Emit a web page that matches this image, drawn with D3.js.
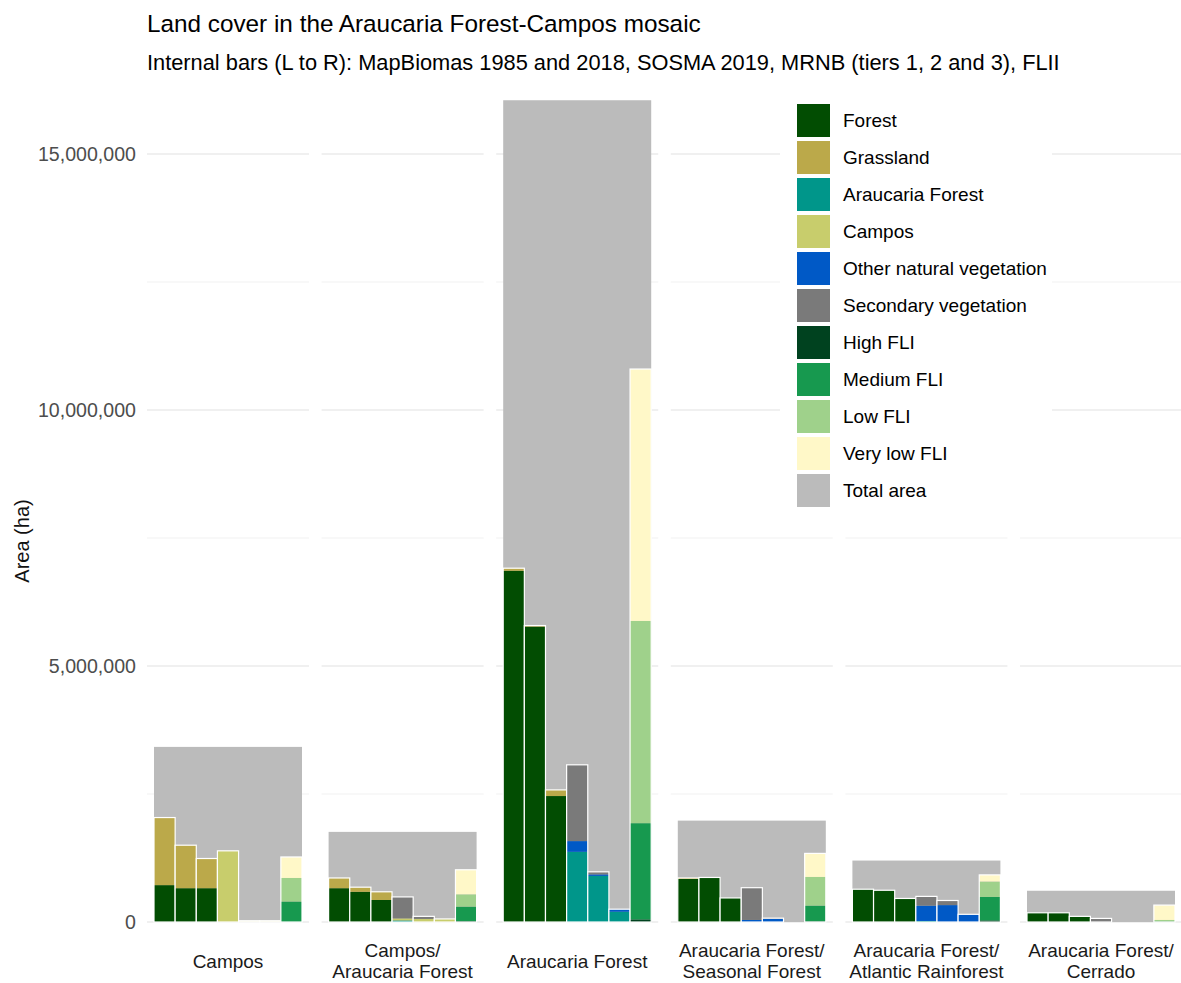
<!DOCTYPE html>
<html><head><meta charset="utf-8">
<script src="https://cdn.jsdelivr.net/npm/d3@7"></script>
<style>
body{margin:0;background:#fff;}
svg{display:block;font-family:"Liberation Sans",Arial,sans-serif;}
</style>
</head><body>
<svg id="chart" width="1181" height="983"></svg>
<script>
// ---------- DATA ----------
const groups = ["Campos","Campos/Araucaria Forest","Araucaria Forest","Araucaria Forest/Seasonal Forest","Araucaria Forest/Atlantic Rainforest","Araucaria Forest/Cerrado"];
const groupLabels = [["Campos"],["Campos/","Araucaria Forest"],["Araucaria Forest"],["Araucaria Forest/","Seasonal Forest"],["Araucaria Forest/","Atlantic Rainforest"],["Araucaria Forest/","Cerrado"]];
const sources = ["MapBiomas 1985","MapBiomas 2018","SOSMA 2019","MRNB tier 1","MRNB tier 2","MRNB tier 3","FLII"];
const classes = ["Forest","Grassland","Araucaria Forest","Campos","Other natural vegetation","Secondary vegetation","High FLI","Medium FLI","Low FLI","Very low FLI"];
const classColors = ["#024d02","#bba94a","#00968a","#c8cd6c","#0059c6","#7a7a7a","#00421f","#17994f","#9fd18b","#fff8c8"];
const totalLabel = "Total area";
const totalColor = "#bbbbbb";

// total area per group (ha)
const totalArea = [3420000, 1760000, 16050000, 1980000, 1200000, 610000];

// each class: per group, values (ha) for the 7 sources
const forest = [
  [720000, 660000, 660000, 0, 0, 0, 0],
  [660000, 590000, 430000, 0, 0, 0, 0],
  [6860000, 5770000, 2460000, 0, 0, 0, 0],
  [840000, 870000, 470000, 0, 0, 0, 0],
  [640000, 620000, 460000, 0, 0, 0, 0],
  [180000, 180000, 110000, 0, 0, 0, 0]];
const grassland = [
  [1320000, 840000, 580000, 0, 0, 0, 0],
  [200000, 90000, 160000, 0, 0, 0, 0],
  [50000, 20000, 120000, 0, 0, 0, 0],
  [20000, 0, 0, 0, 0, 0, 0],
  [0, 0, 0, 0, 0, 0, 0],
  [0, 0, 0, 0, 0, 0, 0]];
const araucariaForest = [
  [0, 0, 0, 0, 0, 0, 0],
  [0, 0, 0, 30000, 0, 0, 0],
  [0, 0, 0, 1370000, 900000, 200000, 0],
  [0, 0, 0, 0, 0, 0, 0],
  [0, 0, 0, 20000, 0, 0, 0],
  [0, 0, 0, 0, 0, 0, 0]];
const campos = [
  [0, 0, 0, 1390000, 25000, 25000, 0],
  [0, 0, 0, 40000, 60000, 60000, 0],
  [0, 0, 0, 0, 0, 0, 0],
  [0, 0, 0, 0, 0, 0, 0],
  [0, 0, 0, 0, 0, 0, 0],
  [0, 0, 0, 0, 0, 0, 0]];
const otherNatural = [
  [0, 0, 0, 0, 0, 0, 0],
  [0, 0, 0, 0, 0, 0, 0],
  [0, 0, 0, 210000, 30000, 50000, 0],
  [0, 0, 0, 40000, 60000, 0, 0],
  [0, 0, 0, 300000, 330000, 150000, 0],
  [0, 0, 0, 0, 0, 0, 0]];
const secondary = [
  [0, 0, 0, 0, 0, 0, 0],
  [0, 0, 0, 420000, 50000, 0, 0],
  [0, 0, 0, 1490000, 50000, 0, 0],
  [0, 0, 0, 630000, 15000, 0, 0],
  [0, 0, 0, 180000, 90000, 0, 0],
  [0, 0, 0, 70000, 0, 0, 0]];
const highFLI = [
  [0, 0, 0, 0, 0, 0, 0],
  [0, 0, 0, 0, 0, 0, 15000],
  [0, 0, 0, 0, 0, 0, 50000],
  [0, 0, 0, 0, 0, 0, 10000],
  [0, 0, 0, 0, 0, 0, 30000],
  [0, 0, 0, 0, 0, 0, 0]];
const mediumFLI = [
  [0, 0, 0, 0, 0, 0, 400000],
  [0, 0, 0, 0, 0, 0, 285000],
  [0, 0, 0, 0, 0, 0, 1880000],
  [0, 0, 0, 0, 0, 0, 310000],
  [0, 0, 0, 0, 0, 0, 460000],
  [0, 0, 0, 0, 0, 0, 10000]];
const lowFLI = [
  [0, 0, 0, 0, 0, 0, 460000],
  [0, 0, 0, 0, 0, 0, 240000],
  [0, 0, 0, 0, 0, 0, 3950000],
  [0, 0, 0, 0, 0, 0, 560000],
  [0, 0, 0, 0, 0, 0, 300000],
  [0, 0, 0, 0, 0, 0, 30000]];
const veryLowFLI = [
  [0, 0, 0, 0, 0, 0, 410000],
  [0, 0, 0, 0, 0, 0, 480000],
  [0, 0, 0, 0, 0, 0, 4920000],
  [0, 0, 0, 0, 0, 0, 460000],
  [0, 0, 0, 0, 0, 0, 130000],
  [0, 0, 0, 0, 0, 0, 290000]];

const yMajorTicks = [0, 5000000, 10000000, 15000000];
const yMinorTicks = [2500000, 7500000, 12500000];
const titleText = "Land cover in the Araucaria Forest-Campos mosaic";
const subtitleText = "Internal bars (L to R): MapBiomas 1985 and 2018, SOSMA 2019, MRNB (tiers 1, 2 and 3), FLII";
const yTitle = "Area (ha)";

const classValues = [forest, grassland, araucariaForest, campos, otherNatural, secondary, highFLI, mediumFLI, lowFLI, veryLowFLI];

// ---------- DRAW ----------
const svg = d3.select("#chart");
const panelStep = 174.6, panelGap = 12.6, panelLeft = 147;
const x = d3.scaleBand().domain(groups)
  .range([panelLeft, panelLeft + panelStep * (groups.length - panelGap / panelStep)])
  .paddingInner(panelGap / panelStep).paddingOuter(0);
const pad = 7;
const xi = d3.scaleBand().domain(sources).range([pad, x.bandwidth() - pad]).padding(0);
const y = d3.scaleLinear().domain([0, 15000000]).range([922, 154]);

const fmt = d3.format(",");

// gridlines per panel
groups.forEach(g => {
  const x0 = x(g), x1 = x(g) + x.bandwidth();
  svg.append("g").selectAll("line").data(yMinorTicks).join("line")
    .attr("x1", x0).attr("x2", x1).attr("y1", d => y(d)).attr("y2", d => y(d))
    .attr("stroke", "#eeeeee").attr("stroke-width", 0.8);
  svg.append("g").selectAll("line").data(yMajorTicks).join("line")
    .attr("x1", x0).attr("x2", x1).attr("y1", d => y(d)).attr("y2", d => y(d))
    .attr("stroke", "#e2e2e2").attr("stroke-width", 1.1);
});

// y axis tick labels
const yAxis = d3.axisLeft(y).tickValues(yMajorTicks).tickFormat(fmt).tickSize(0).tickPadding(0);
const ya = svg.append("g").attr("transform", "translate(136,0)").call(yAxis);
ya.select(".domain").remove();
ya.selectAll("text").attr("font-size", 19.6).attr("fill", "#4d4d4d")
  .attr("font-family", "'Liberation Sans',Arial,sans-serif");

// y title
svg.append("text").attr("transform", "translate(29,541) rotate(-90)")
  .attr("text-anchor", "middle").attr("font-size", 20).attr("fill", "#111")
  .text(yTitle);

// panels
groups.forEach((g, gi) => {
  const gx = x(g);
  const pg = svg.append("g").attr("transform", `translate(${gx},0)`);
  // total area
  pg.append("rect").attr("x", pad).attr("width", x.bandwidth() - 2 * pad)
    .attr("y", y(totalArea[gi])).attr("height", y(0) - y(totalArea[gi]))
    .attr("fill", totalColor);
  sources.forEach((s, si) => {
    const rows = classes.map((c, ci) => ({c, ci, v: classValues[ci][gi][si]}));
    let cum = 0;
    const segs = rows.map(r => { const s0 = cum; cum += r.v; return {...r, y0: s0, y1: cum}; }).filter(r => r.v > 0);
    pg.append("g").selectAll("rect").data(segs).join("rect")
      .attr("x", xi(s)).attr("width", xi.bandwidth())
      .attr("y", d => y(d.y1)).attr("height", d => y(d.y0) - y(d.y1))
      .attr("fill", d => classColors[d.ci]);
    if (cum > 0) {
      pg.append("rect").attr("x", xi(s)).attr("width", xi.bandwidth())
        .attr("y", y(cum)).attr("height", y(0) - y(cum))
        .attr("fill", "none").attr("stroke", "#ffffff").attr("stroke-width", 1.2);
    }
  });
  // label
  const lines = groupLabels[gi];
  const cx = gx + x.bandwidth() / 2;
  const lh = 21;
  const startY = 961 - (lines.length - 1) * lh / 2;
  lines.forEach((ln, li) => {
    svg.append("text").attr("x", cx).attr("y", startY + li * lh)
      .attr("dy", "0.35em").attr("text-anchor", "middle")
      .attr("font-size", 19).attr("fill", "#1a1a1a").text(ln);
  });
});

// title & subtitle
svg.append("text").attr("x", 147).attr("y", 32).attr("font-size", 24.3).attr("fill", "#000").text(titleText);
svg.append("text").attr("x", 147).attr("y", 70).attr("font-size", 21.8).attr("fill", "#000").text(subtitleText);

// legend
const leg = svg.append("g");
leg.append("rect").attr("x", 780).attr("y", 88).attr("width", 272).attr("height", 432).attr("fill", "#fff");
const legItems = classes.map((c, i) => ({label: c, color: classColors[i]})).concat([{label: totalLabel, color: totalColor}]);
const items = leg.selectAll("g.item").data(legItems).join("g")
  .attr("transform", (d, i) => `translate(797,${104 + i * 37})`);
items.append("rect").attr("width", 33).attr("height", 33).attr("fill", d => d.color);
items.append("text").attr("x", 46).attr("y", 16.5).attr("dy", "0.36em")
  .attr("font-size", 19).attr("fill", "#000").text(d => d.label);
</script>
</body></html>
